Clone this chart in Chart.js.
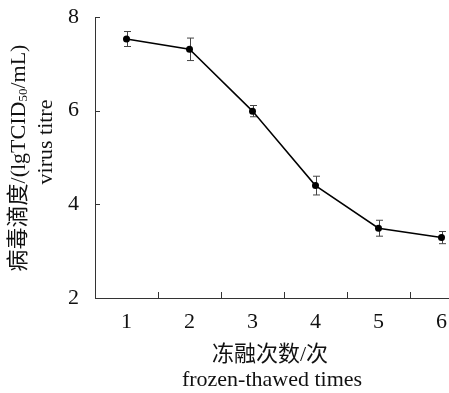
<!DOCTYPE html>
<html><head><meta charset="utf-8">
<script src="https://cdn.jsdelivr.net/npm/chart.js@4/dist/chart.umd.min.js"></script>
<style>html,body{margin:0;padding:0;overflow:hidden;background:#fff;width:449px;height:393px}
#wrap{position:relative;width:480px;height:393px}</style></head>
<body><div id="wrap"><canvas id="c" width="480" height="393"></canvas></div>
<script>
const categories = ['1', '2', '3', '4', '5', '6'];
const titreMean = [7.53, 7.31, 5.99, 4.40, 3.49, 3.29];
const titreErr = [0.16, 0.24, 0.12, 0.20, 0.17, 0.13];
const yTickValues = [2, 4, 6, 8];
const xTitleLines = ['冻融次数/次', 'frozen-thawed times'];
const yTitleParts = ['病毒滴度/(lgTCID', '50', '/mL)'];
const yTitleLine2 = 'virus titre';

const FONT = '"Liberation Serif", "Noto Sans CJK SC", serif';
const AXIS_COLOR = '#333';

const decorPlugin = {
  id: 'decor',
  beforeDatasetsDraw(chart) {
    const ctx = chart.ctx, x = chart.scales.x, y = chart.scales.y;
    ctx.save();
    ctx.strokeStyle = '#444';
    ctx.lineWidth = 1;
    titreMean.forEach((m, i) => {
      const px = Math.round(x.getPixelForValue(i)) + 0.5;
      const t = y.getPixelForValue(m + titreErr[i]);
      const b = y.getPixelForValue(m - titreErr[i]);
      ctx.beginPath();
      ctx.moveTo(px, t); ctx.lineTo(px, b);
      ctx.moveTo(px - 3.5, t); ctx.lineTo(px + 3.5, t);
      ctx.moveTo(px - 3.5, b); ctx.lineTo(px + 3.5, b);
      ctx.stroke();
    });
    ctx.restore();
  },
  afterDraw(chart) {
    const ctx = chart.ctx, x = chart.scales.x, y = chart.scales.y;
    const area = chart.chartArea;
    ctx.save();
    ctx.strokeStyle = AXIS_COLOR;
    ctx.lineWidth = 1;
    yTickValues.forEach(v => {
      if (v === yTickValues[0]) return;
      const py = Math.round(y.getPixelForValue(v)) + 0.5;
      ctx.beginPath();
      ctx.moveTo(area.left, py); ctx.lineTo(area.left + 5, py);
      ctx.stroke();
    });
    for (let i = 0; i < categories.length - 1; i++) {
      const px = Math.round((x.getPixelForValue(i) + x.getPixelForValue(i + 1)) / 2) + 0.5;
      ctx.beginPath();
      ctx.moveTo(px, area.bottom); ctx.lineTo(px, area.bottom - 6);
      ctx.stroke();
    }
    ctx.fillStyle = '#111';
    ctx.textAlign = 'center';
    ctx.textBaseline = 'middle';
    ctx.font = '22px ' + FONT;
    ctx.fillText(xTitleLines[0], 270, 355);
    ctx.fillText(xTitleLines[1], 272, 380);
    const sizes = [22, 13, 22];
    const dys = [0, 5, 0];
    const widths = yTitleParts.map((t, k) => { ctx.font = sizes[k] + 'px ' + FONT; return ctx.measureText(t).width; });
    const total = widths.reduce((a, b) => a + b, 0);
    ctx.save();
    ctx.translate(19, 158);
    ctx.rotate(-Math.PI / 2);
    ctx.textAlign = 'left';
    let cx = -total / 2;
    yTitleParts.forEach((t, k) => {
      ctx.font = sizes[k] + 'px ' + FONT;
      ctx.fillText(t, cx, dys[k]);
      cx += widths[k];
    });
    ctx.restore();
    ctx.save();
    ctx.translate(46, 142);
    ctx.rotate(-Math.PI / 2);
    ctx.textAlign = 'center';
    ctx.font = '22px ' + FONT;
    ctx.fillText(yTitleLine2, 0, 0);
    ctx.restore();
    ctx.restore();
  }
};

new Chart(document.getElementById('c'), {
  type: 'line',
  data: {
    labels: categories,
    datasets: [{
      data: titreMean,
      borderColor: '#000',
      borderWidth: 1.5,
      backgroundColor: '#000',
      pointRadius: 3.5,
      pointBackgroundColor: '#000',
      pointBorderWidth: 0,
      tension: 0,
      fill: false
    }]
  },
  options: {
    responsive: false,
    animation: false,
    layout: { padding: { top: 17, right: 7, left: 0, bottom: 0 } },
    plugins: { legend: { display: false }, tooltip: { enabled: false } },
    scales: {
      x: {
        type: 'category',
        offset: true,
        grid: { display: false, drawTicks: false },
        border: { display: true, color: AXIS_COLOR, width: 1 },
        ticks: { color: '#111', font: { family: FONT, size: 22 }, padding: 11, maxRotation: 0 },
        afterFit(s) { s.height = 95; s.paddingLeft = 0; s.paddingRight = 0; }
      },
      y: {
        min: 2, max: 8,
        afterBuildTicks(s) { s.ticks = yTickValues.map(v => ({ value: v })); },
        grid: { display: false, drawTicks: false },
        border: { display: true, color: AXIS_COLOR, width: 1 },
        ticks: { color: '#111', font: { family: FONT, size: 22 }, padding: 16 },
        afterFit(s) { s.width = 95; s.paddingTop = 0; s.paddingBottom = 0; }
      }
    }
  },
  plugins: [decorPlugin]
});
</script></body></html>
